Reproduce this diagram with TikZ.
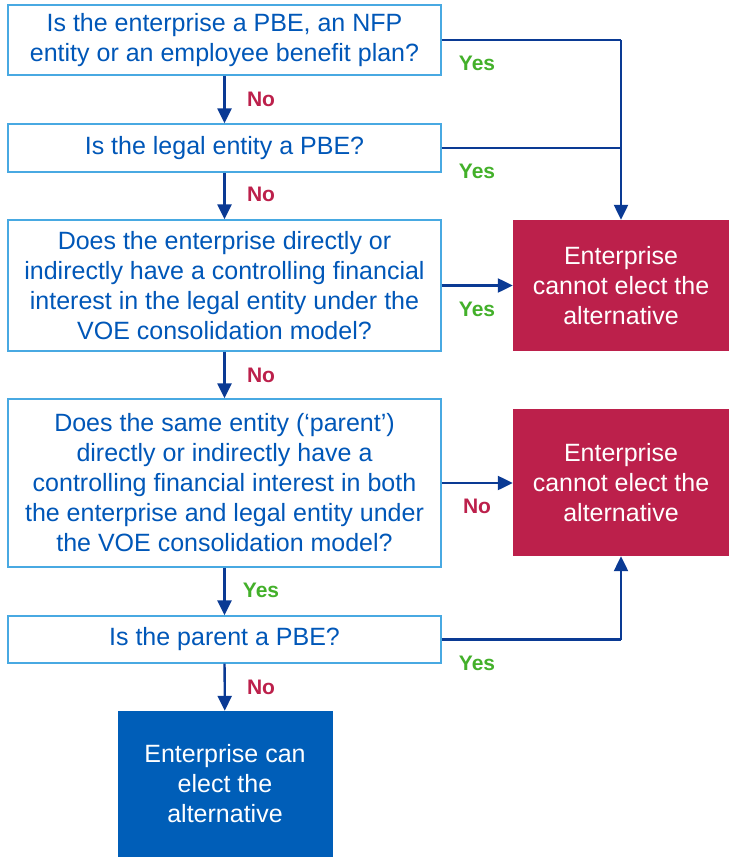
\documentclass[tikz,border=0pt]{standalone}
\usepackage{fontspec}
\setmainfont{Liberation Sans}
\usepackage{tikz}
\usetikzlibrary{arrows.meta,calc}

\definecolor{qblue}{HTML}{0057B8}
\definecolor{qedge}{HTML}{48A9E2}
\definecolor{arrblue}{HTML}{0A3A94}
\definecolor{kred}{HTML}{BC204B}
\definecolor{kblue}{HTML}{005EB8}
\definecolor{yesgreen}{HTML}{43B02A}

\tikzset{
  question/.style={draw=qedge,line width=1.3pt,fill=white,text=qblue,align=center,
    minimum width=433pt,inner sep=0pt,font=\fontsize{25}{30}\selectfont},
  outcome/.style={fill=#1,text=white,align=center,minimum width=216pt,inner sep=0pt,
    font=\fontsize{25}{30}\selectfont},
  flow/.style={draw=arrblue,line width=2.3pt,-{Triangle[length=15pt,width=14pt]}},
  link/.style={draw=arrblue,line width=2.3pt},
  yes/.style={text=yesgreen,font=\fontsize{21}{22}\selectfont\bfseries},
  no/.style={text=kred,font=\fontsize{21}{22}\selectfont\bfseries}
}

\begin{document}
\begin{tikzpicture}[x=1pt,y=-1pt]
\useasboundingbox (0,0) rectangle (731,859);

\node[question,minimum height=70pt](q1) at (224.5,40){Is the enterprise a PBE, an NFP\\entity or an employee benefit plan?};
\node[question,minimum height=48pt](q2) at (224.5,148){Is the legal entity a PBE?};
\node[question,minimum height=131pt](q3) at (224.5,285.5){Does the enterprise directly or\\indirectly have a controlling financial\\interest in the legal entity under the\\VOE consolidation model?};
\node[question,minimum height=168pt](q4) at (224.5,483){Does the same entity (‘parent’)\\directly or indirectly have a\\controlling financial interest in both\\the enterprise and legal entity under\\the VOE consolidation model?};
\node[question,minimum height=47pt](q5) at (224.5,639.5){Is the parent a PBE?};

\node[outcome=kred,minimum height=131pt](r1) at (621,285.5){Enterprise\\cannot elect the\\alternative};
\node[outcome=kred,minimum height=147pt](r2) at (621,482.5){Enterprise\\cannot elect the\\alternative};
\node[outcome=kblue,minimum width=215pt,minimum height=146pt](ok) at (225,784){Enterprise can\\elect the\\alternative};

% down the left column
\draw[flow](q1)--(q2);
\draw[flow](q2)--(q3);
\draw[flow](q3)--(q4);
\draw[flow](q4)--(q5);
\draw[flow](q5)--(ok);

% right hand side
\coordinate (c1) at (q1.east -| r1.north);
\draw[link](q1.east)--(c1);
\draw[flow](c1)--(r1.north);
\draw[link](q2.east)--(q2.east -| r1.north);
\draw[flow](q3.east)--(r1.west);
\draw[flow](q4.east)--(q4.east -| r2.west);
\coordinate (c5) at (q5.east -| r2.south);
\draw[link](q5.east)--(c5);
\draw[flow](c5)--(r2.south);

% labels
\node[no](n1) at (261,99){No};
\node[no](n2) at (261,194){No};
\node[no](n3) at (261,375){No};
\node[yes](y4) at (261,590){Yes};
\node[no](n5) at (261,687){No};
\node[yes](y1) at (477,63){Yes};
\node[yes](y2) at (477,171){Yes};
\node[yes](y3) at (477,309){Yes};
\node[no](n4) at (477,506){No};
\node[yes](y5) at (477,663){Yes};
\end{tikzpicture}
\end{document}
